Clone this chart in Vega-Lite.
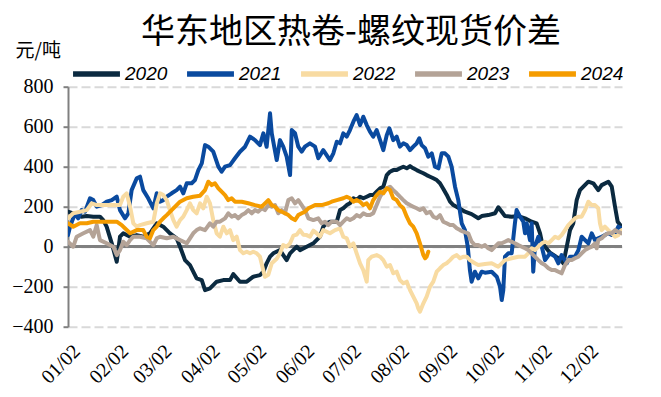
{
"$schema": "https://vega.github.io/schema/vega-lite/v6.json",
"width": 554, "height": 240,
"autosize": {"type": "none"},
"padding": {"left": 68, "top": 86.7, "right": 39, "bottom": 70.3},
"background": "white",
"title": {"text": "华东地区热卷-螺纹现货价差", "font": "Noto Sans CJK SC", "fontSize": 34, "fontWeight": "normal", "color": "#000000", "anchor": "middle", "frame": "group", "offset": 0, "dx": 6, "dy": 8},
"config": {"view": {"stroke": null},
  "axisY": {"values": [-400,-200,0,200,400,600,800], "labelOverlap": false, "labelFont": "Liberation Serif", "labelFontSize": 20, "labelColor": "#000000", "domainColor": "#808080", "domainWidth": 2, "tickColor": "#808080", "tickWidth": 2, "tickSize": 5, "labelPadding": 10, "grid": true, "gridColor": "#d9d9d9", "gridDash": [9, 4], "gridWidth": 2, "titleAngle": 0, "titleX": -53, "titleY": -30, "titleAlign": "left", "titleBaseline": "alphabetic", "titleFont": "Noto Sans CJK SC", "titleFontSize": 19, "titleFontWeight": "normal", "titleColor": "#000000"}},
"data": {"values": [
{"s":"2020","d":1,"v":175},{"s":"2020","d":4.4,"v":167},{"s":"2020","d":9.6,"v":150},{"s":"2020","d":13.1,"v":153},{"s":"2020","d":17.3,"v":150},{"s":"2020","d":21.6,"v":150},{"s":"2020","d":23.7,"v":133},{"s":"2020","d":25.9,"v":100},{"s":"2020","d":29.2,"v":17},{"s":"2020","d":32.4,"v":-75},{"s":"2020","d":34.5,"v":50},{"s":"2020","d":36.6,"v":67},{"s":"2020","d":41,"v":50},{"s":"2020","d":45.3,"v":58},{"s":"2020","d":49.5,"v":50},{"s":"2020","d":53.8,"v":67},{"s":"2020","d":58.2,"v":117},{"s":"2020","d":62.4,"v":100},{"s":"2020","d":66.7,"v":67},{"s":"2020","d":71,"v":42},{"s":"2020","d":73.2,"v":0},{"s":"2020","d":76.4,"v":-67},{"s":"2020","d":79.6,"v":-92},{"s":"2020","d":83.9,"v":-158},{"s":"2020","d":87.2,"v":-167},{"s":"2020","d":89.3,"v":-217},{"s":"2020","d":92.5,"v":-208},{"s":"2020","d":96.8,"v":-175},{"s":"2020","d":101.1,"v":-167},{"s":"2020","d":105.4,"v":-167},{"s":"2020","d":107.5,"v":-137},{"s":"2020","d":111.8,"v":-175},{"s":"2020","d":116.2,"v":-175},{"s":"2020","d":120.4,"v":-150},{"s":"2020","d":124.7,"v":-142},{"s":"2020","d":126.9,"v":-125},{"s":"2020","d":129,"v":-83},{"s":"2020","d":131.2,"v":-50},{"s":"2020","d":133.3,"v":-33},{"s":"2020","d":137.6,"v":-17},{"s":"2020","d":139.7,"v":-42},{"s":"2020","d":141.9,"v":-67},{"s":"2020","d":144.1,"v":-33},{"s":"2020","d":148.4,"v":0},{"s":"2020","d":150.5,"v":-17},{"s":"2020","d":154.8,"v":0},{"s":"2020","d":159.1,"v":17},{"s":"2020","d":163.4,"v":50},{"s":"2020","d":165.5,"v":100},{"s":"2020","d":167.7,"v":117},{"s":"2020","d":169.8,"v":125},{"s":"2020","d":174.2,"v":125},{"s":"2020","d":176.3,"v":183},{"s":"2020","d":178.4,"v":192},{"s":"2020","d":180.6,"v":208},{"s":"2020","d":182.7,"v":217},{"s":"2020","d":184.9,"v":242},{"s":"2020","d":187,"v":233},{"s":"2020","d":189.2,"v":250},{"s":"2020","d":191.3,"v":242},{"s":"2020","d":193.5,"v":250},{"s":"2020","d":195.6,"v":258},{"s":"2020","d":197.7,"v":258},{"s":"2020","d":199.9,"v":275},{"s":"2020","d":202.1,"v":292},{"s":"2020","d":204.2,"v":300},{"s":"2020","d":206.4,"v":358},{"s":"2020","d":208.5,"v":375},{"s":"2020","d":210.6,"v":383},{"s":"2020","d":212.8,"v":383},{"s":"2020","d":214.9,"v":392},{"s":"2020","d":217.1,"v":400},{"s":"2020","d":219.3,"v":392},{"s":"2020","d":221.4,"v":403},{"s":"2020","d":223.5,"v":392},{"s":"2020","d":225.7,"v":383},{"s":"2020","d":227.8,"v":375},{"s":"2020","d":230,"v":367},{"s":"2020","d":232.1,"v":358},{"s":"2020","d":234.3,"v":350},{"s":"2020","d":236.4,"v":342},{"s":"2020","d":238.6,"v":333},{"s":"2020","d":240.7,"v":317},{"s":"2020","d":242.8,"v":290},{"s":"2020","d":245,"v":260},{"s":"2020","d":247.2,"v":225},{"s":"2020","d":249.3,"v":208},{"s":"2020","d":253.6,"v":190},{"s":"2020","d":256.8,"v":175},{"s":"2020","d":261.1,"v":163},{"s":"2020","d":265.4,"v":142},{"s":"2020","d":267.6,"v":153},{"s":"2020","d":271.8,"v":158},{"s":"2020","d":276.2,"v":167},{"s":"2020","d":278.3,"v":197},{"s":"2020","d":280.5,"v":175},{"s":"2020","d":282.6,"v":153},{"s":"2020","d":286.9,"v":150},{"s":"2020","d":291.2,"v":153},{"s":"2020","d":295.5,"v":142},{"s":"2020","d":299.8,"v":125},{"s":"2020","d":303,"v":117},{"s":"2020","d":305.2,"v":67},{"s":"2020","d":306.3,"v":25},{"s":"2020","d":308.4,"v":0},{"s":"2020","d":311.6,"v":-30},{"s":"2020","d":315.5,"v":-50},{"s":"2020","d":318,"v":-60},{"s":"2020","d":320.2,"v":-83},{"s":"2020","d":322.4,"v":0},{"s":"2020","d":324.5,"v":83},{"s":"2020","d":326.6,"v":117},{"s":"2020","d":328.8,"v":233},{"s":"2020","d":330.9,"v":283},{"s":"2020","d":333.1,"v":300},{"s":"2020","d":336.3,"v":325},{"s":"2020","d":339.5,"v":317},{"s":"2020","d":342.7,"v":283},{"s":"2020","d":344.9,"v":308},{"s":"2020","d":349.2,"v":325},{"s":"2020","d":351.4,"v":300},{"s":"2020","d":353.5,"v":200},{"s":"2020","d":355.2,"v":125},{"s":"2020","d":357.8,"v":100},
{"s":"2021","d":1,"v":58},{"s":"2021","d":2.3,"v":100},{"s":"2021","d":5.5,"v":167},{"s":"2021","d":7.6,"v":142},{"s":"2021","d":9.8,"v":183},{"s":"2021","d":12,"v":175},{"s":"2021","d":15.2,"v":242},{"s":"2021","d":17.3,"v":233},{"s":"2021","d":19.5,"v":200},{"s":"2021","d":22.7,"v":208},{"s":"2021","d":25.9,"v":225},{"s":"2021","d":29.2,"v":233},{"s":"2021","d":32.4,"v":250},{"s":"2021","d":34.5,"v":183},{"s":"2021","d":37.7,"v":142},{"s":"2021","d":39.9,"v":167},{"s":"2021","d":42,"v":283},{"s":"2021","d":45.3,"v":342},{"s":"2021","d":47.4,"v":350},{"s":"2021","d":49.5,"v":283},{"s":"2021","d":52.7,"v":242},{"s":"2021","d":56,"v":192},{"s":"2021","d":58.2,"v":267},{"s":"2021","d":60.3,"v":225},{"s":"2021","d":62.4,"v":233},{"s":"2021","d":64.6,"v":250},{"s":"2021","d":67.8,"v":267},{"s":"2021","d":71,"v":283},{"s":"2021","d":73.2,"v":300},{"s":"2021","d":75.3,"v":267},{"s":"2021","d":77.5,"v":317},{"s":"2021","d":80.7,"v":317},{"s":"2021","d":82.8,"v":333},{"s":"2021","d":85,"v":383},{"s":"2021","d":87.2,"v":417},{"s":"2021","d":89.3,"v":508},{"s":"2021","d":91.4,"v":500},{"s":"2021","d":94.6,"v":475},{"s":"2021","d":97.9,"v":400},{"s":"2021","d":100,"v":375},{"s":"2021","d":102.2,"v":400},{"s":"2021","d":105.4,"v":408},{"s":"2021","d":108.6,"v":442},{"s":"2021","d":111.8,"v":475},{"s":"2021","d":115.1,"v":500},{"s":"2021","d":118.3,"v":550},{"s":"2021","d":121.5,"v":533},{"s":"2021","d":124.7,"v":508},{"s":"2021","d":126.9,"v":567},{"s":"2021","d":129,"v":500},{"s":"2021","d":131.2,"v":667},{"s":"2021","d":132.3,"v":567},{"s":"2021","d":135.5,"v":433},{"s":"2021","d":137.6,"v":533},{"s":"2021","d":139.7,"v":500},{"s":"2021","d":141.9,"v":450},{"s":"2021","d":144.1,"v":358},{"s":"2021","d":145.2,"v":583},{"s":"2021","d":147.3,"v":567},{"s":"2021","d":149.4,"v":500},{"s":"2021","d":151.6,"v":475},{"s":"2021","d":153.7,"v":500},{"s":"2021","d":156.9,"v":517},{"s":"2021","d":160.2,"v":500},{"s":"2021","d":162.3,"v":442},{"s":"2021","d":165.5,"v":483},{"s":"2021","d":169.8,"v":433},{"s":"2021","d":172,"v":467},{"s":"2021","d":174.2,"v":525},{"s":"2021","d":176.3,"v":517},{"s":"2021","d":178.4,"v":567},{"s":"2021","d":180.6,"v":550},{"s":"2021","d":182.7,"v":583},{"s":"2021","d":184.9,"v":625},{"s":"2021","d":187,"v":658},{"s":"2021","d":189.2,"v":608},{"s":"2021","d":191.3,"v":650},{"s":"2021","d":193.5,"v":608},{"s":"2021","d":195.6,"v":575},{"s":"2021","d":197.7,"v":550},{"s":"2021","d":199.9,"v":583},{"s":"2021","d":202.1,"v":533},{"s":"2021","d":204.2,"v":483},{"s":"2021","d":206.4,"v":558},{"s":"2021","d":208.1,"v":592},{"s":"2021","d":210.6,"v":533},{"s":"2021","d":212.8,"v":550},{"s":"2021","d":214.9,"v":500},{"s":"2021","d":217.1,"v":517},{"s":"2021","d":219.3,"v":508},{"s":"2021","d":221.4,"v":483},{"s":"2021","d":223.5,"v":500},{"s":"2021","d":225.7,"v":517},{"s":"2021","d":227.4,"v":542},{"s":"2021","d":228.9,"v":508},{"s":"2021","d":231.1,"v":492},{"s":"2021","d":233.2,"v":450},{"s":"2021","d":235.4,"v":467},{"s":"2021","d":237.5,"v":400},{"s":"2021","d":239.7,"v":392},{"s":"2021","d":241.8,"v":467},{"s":"2021","d":243.9,"v":467},{"s":"2021","d":246.1,"v":450},{"s":"2021","d":248.2,"v":400},{"s":"2021","d":250.4,"v":300},{"s":"2021","d":252.5,"v":233},{"s":"2021","d":254.7,"v":117},{"s":"2021","d":256.8,"v":83},{"s":"2021","d":258.6,"v":0},{"s":"2021","d":260,"v":-117},{"s":"2021","d":261.1,"v":-175},{"s":"2021","d":263.2,"v":-125},{"s":"2021","d":265.4,"v":-158},{"s":"2021","d":267.6,"v":-125},{"s":"2021","d":269.7,"v":-130},{"s":"2021","d":274,"v":-125},{"s":"2021","d":277.3,"v":-150},{"s":"2021","d":279.4,"v":-200},{"s":"2021","d":280.5,"v":-267},{"s":"2021","d":281.5,"v":-217},{"s":"2021","d":282.6,"v":-50},{"s":"2021","d":284.7,"v":-33},{"s":"2021","d":286.9,"v":-33},{"s":"2021","d":289,"v":117},{"s":"2021","d":290.1,"v":183},{"s":"2021","d":292.3,"v":150},{"s":"2021","d":294.4,"v":125},{"s":"2021","d":295.5,"v":67},{"s":"2021","d":296.6,"v":117},{"s":"2021","d":298.7,"v":33},{"s":"2021","d":299.8,"v":117},{"s":"2021","d":300.8,"v":-125},{"s":"2021","d":301.9,"v":0},{"s":"2021","d":304.1,"v":50},{"s":"2021","d":306.3,"v":0},{"s":"2021","d":308.4,"v":-67},{"s":"2021","d":311.6,"v":-33},{"s":"2021","d":314.9,"v":-50},{"s":"2021","d":317,"v":-83},{"s":"2021","d":319.1,"v":-42},{"s":"2021","d":322.4,"v":-83},{"s":"2021","d":324.5,"v":-50},{"s":"2021","d":327.7,"v":-50},{"s":"2021","d":329.9,"v":-17},{"s":"2021","d":332,"v":50},{"s":"2021","d":334.2,"v":33},{"s":"2021","d":336.3,"v":17},{"s":"2021","d":338.5,"v":67},{"s":"2021","d":340.6,"v":33},{"s":"2021","d":342.7,"v":42},{"s":"2021","d":344.9,"v":50},{"s":"2021","d":347,"v":58},{"s":"2021","d":349.2,"v":67},{"s":"2021","d":351.4,"v":58},{"s":"2021","d":353.5,"v":67},{"s":"2021","d":355.6,"v":100},{"s":"2021","d":357.8,"v":92},
{"s":"2022","d":1,"v":142},{"s":"2022","d":4.4,"v":167},{"s":"2022","d":8.7,"v":175},{"s":"2022","d":13.1,"v":183},{"s":"2022","d":16.3,"v":217},{"s":"2022","d":19.5,"v":208},{"s":"2022","d":23.7,"v":208},{"s":"2022","d":30.2,"v":208},{"s":"2022","d":34.5,"v":208},{"s":"2022","d":36.6,"v":250},{"s":"2022","d":38.8,"v":267},{"s":"2022","d":41,"v":200},{"s":"2022","d":43.1,"v":117},{"s":"2022","d":45.3,"v":100},{"s":"2022","d":47.4,"v":108},{"s":"2022","d":51.7,"v":117},{"s":"2022","d":56,"v":125},{"s":"2022","d":58.2,"v":217},{"s":"2022","d":60.3,"v":267},{"s":"2022","d":62.4,"v":258},{"s":"2022","d":64.6,"v":233},{"s":"2022","d":66.7,"v":183},{"s":"2022","d":68.9,"v":133},{"s":"2022","d":71,"v":100},{"s":"2022","d":73.2,"v":133},{"s":"2022","d":75.3,"v":150},{"s":"2022","d":77.5,"v":183},{"s":"2022","d":79.6,"v":217},{"s":"2022","d":81.7,"v":183},{"s":"2022","d":83.9,"v":167},{"s":"2022","d":86.1,"v":217},{"s":"2022","d":88.2,"v":192},{"s":"2022","d":90.4,"v":250},{"s":"2022","d":92.5,"v":217},{"s":"2022","d":94.6,"v":133},{"s":"2022","d":96.8,"v":67},{"s":"2022","d":98.9,"v":50},{"s":"2022","d":101.1,"v":100},{"s":"2022","d":103.3,"v":67},{"s":"2022","d":105.4,"v":83},{"s":"2022","d":107.5,"v":33},{"s":"2022","d":109.7,"v":50},{"s":"2022","d":111.8,"v":-17},{"s":"2022","d":114,"v":-33},{"s":"2022","d":116.2,"v":-25},{"s":"2022","d":118.3,"v":-33},{"s":"2022","d":120.4,"v":-25},{"s":"2022","d":122.6,"v":-33},{"s":"2022","d":124.7,"v":-50},{"s":"2022","d":126.9,"v":-120},{"s":"2022","d":127.9,"v":-150},{"s":"2022","d":130.1,"v":-140},{"s":"2022","d":132.3,"v":-83},{"s":"2022","d":135.5,"v":-60},{"s":"2022","d":137.6,"v":-33},{"s":"2022","d":139.7,"v":8},{"s":"2022","d":141.9,"v":0},{"s":"2022","d":144.1,"v":17},{"s":"2022","d":146.2,"v":55},{"s":"2022","d":148.4,"v":60},{"s":"2022","d":150.5,"v":83},{"s":"2022","d":152.6,"v":60},{"s":"2022","d":154.8,"v":58},{"s":"2022","d":156.9,"v":50},{"s":"2022","d":159.1,"v":80},{"s":"2022","d":161.3,"v":67},{"s":"2022","d":163.4,"v":50},{"s":"2022","d":165.5,"v":83},{"s":"2022","d":167.7,"v":75},{"s":"2022","d":169.8,"v":67},{"s":"2022","d":173.1,"v":83},{"s":"2022","d":176.3,"v":92},{"s":"2022","d":178.4,"v":50},{"s":"2022","d":180.6,"v":42},{"s":"2022","d":182.7,"v":0},{"s":"2022","d":184.9,"v":17},{"s":"2022","d":187,"v":-33},{"s":"2022","d":189.2,"v":-83},{"s":"2022","d":191.3,"v":-117},{"s":"2022","d":193.5,"v":-175},{"s":"2022","d":194.5,"v":-67},{"s":"2022","d":196.7,"v":-50},{"s":"2022","d":199.9,"v":-42},{"s":"2022","d":202.1,"v":-50},{"s":"2022","d":204.2,"v":-67},{"s":"2022","d":206.4,"v":-100},{"s":"2022","d":208.5,"v":-92},{"s":"2022","d":210.6,"v":-133},{"s":"2022","d":212.8,"v":-125},{"s":"2022","d":214.9,"v":-167},{"s":"2022","d":217.1,"v":-183},{"s":"2022","d":219.3,"v":-175},{"s":"2022","d":221.4,"v":-217},{"s":"2022","d":223.5,"v":-250},{"s":"2022","d":225.7,"v":-283},{"s":"2022","d":226.7,"v":-308},{"s":"2022","d":227.8,"v":-325},{"s":"2022","d":230,"v":-283},{"s":"2022","d":232.1,"v":-250},{"s":"2022","d":234.3,"v":-200},{"s":"2022","d":236.4,"v":-175},{"s":"2022","d":238.6,"v":-125},{"s":"2022","d":240.7,"v":-108},{"s":"2022","d":242.8,"v":-92},{"s":"2022","d":245,"v":-83},{"s":"2022","d":247.2,"v":-67},{"s":"2022","d":249.3,"v":-50},{"s":"2022","d":251.5,"v":-42},{"s":"2022","d":253.6,"v":-58},{"s":"2022","d":255.7,"v":-50},{"s":"2022","d":257.9,"v":-50},{"s":"2022","d":260,"v":-67},{"s":"2022","d":263.2,"v":-83},{"s":"2022","d":265.4,"v":-92},{"s":"2022","d":269.7,"v":-87},{"s":"2022","d":274,"v":-83},{"s":"2022","d":276.2,"v":-92},{"s":"2022","d":278.3,"v":-100},{"s":"2022","d":280.5,"v":-83},{"s":"2022","d":282.6,"v":-67},{"s":"2022","d":286.9,"v":-58},{"s":"2022","d":291.2,"v":-50},{"s":"2022","d":295.5,"v":-50},{"s":"2022","d":297.6,"v":-33},{"s":"2022","d":299.8,"v":-8},{"s":"2022","d":301.9,"v":-17},{"s":"2022","d":304.1,"v":0},{"s":"2022","d":306.3,"v":17},{"s":"2022","d":308.4,"v":25},{"s":"2022","d":310.6,"v":17},{"s":"2022","d":312.7,"v":33},{"s":"2022","d":314.9,"v":50},{"s":"2022","d":317,"v":42},{"s":"2022","d":319.1,"v":58},{"s":"2022","d":321.3,"v":83},{"s":"2022","d":323.4,"v":108},{"s":"2022","d":325.6,"v":125},{"s":"2022","d":327.7,"v":142},{"s":"2022","d":329.9,"v":150},{"s":"2022","d":332,"v":150},{"s":"2022","d":334.2,"v":183},{"s":"2022","d":336.3,"v":225},{"s":"2022","d":338.5,"v":208},{"s":"2022","d":340.6,"v":208},{"s":"2022","d":342.7,"v":192},{"s":"2022","d":343.8,"v":117},{"s":"2022","d":344.9,"v":83},{"s":"2022","d":347,"v":100},{"s":"2022","d":349.2,"v":83},{"s":"2022","d":351.4,"v":67},{"s":"2022","d":353.5,"v":50},{"s":"2022","d":355.6,"v":58},{"s":"2022","d":357.8,"v":83},
{"s":"2023","d":1,"v":25},{"s":"2023","d":4.4,"v":0},{"s":"2023","d":6.6,"v":50},{"s":"2023","d":10.9,"v":67},{"s":"2023","d":15.2,"v":83},{"s":"2023","d":17.3,"v":50},{"s":"2023","d":19.5,"v":108},{"s":"2023","d":21.6,"v":33},{"s":"2023","d":25.9,"v":17},{"s":"2023","d":30.2,"v":0},{"s":"2023","d":32.4,"v":-42},{"s":"2023","d":34.5,"v":-17},{"s":"2023","d":36.6,"v":25},{"s":"2023","d":38.8,"v":8},{"s":"2023","d":41,"v":33},{"s":"2023","d":43.1,"v":50},{"s":"2023","d":47.4,"v":50},{"s":"2023","d":51.7,"v":42},{"s":"2023","d":56,"v":8},{"s":"2023","d":58.2,"v":42},{"s":"2023","d":60.3,"v":50},{"s":"2023","d":64.6,"v":42},{"s":"2023","d":68.9,"v":50},{"s":"2023","d":73.2,"v":33},{"s":"2023","d":77.5,"v":17},{"s":"2023","d":79.6,"v":42},{"s":"2023","d":81.7,"v":67},{"s":"2023","d":83.9,"v":83},{"s":"2023","d":86.1,"v":92},{"s":"2023","d":89.3,"v":83},{"s":"2023","d":92.5,"v":117},{"s":"2023","d":94.6,"v":100},{"s":"2023","d":96.8,"v":125},{"s":"2023","d":98.9,"v":125},{"s":"2023","d":102.2,"v":142},{"s":"2023","d":104.3,"v":167},{"s":"2023","d":106.5,"v":150},{"s":"2023","d":108.6,"v":158},{"s":"2023","d":110.7,"v":142},{"s":"2023","d":112.9,"v":158},{"s":"2023","d":115.1,"v":167},{"s":"2023","d":117.2,"v":183},{"s":"2023","d":119.4,"v":167},{"s":"2023","d":121.5,"v":183},{"s":"2023","d":123.6,"v":175},{"s":"2023","d":125.8,"v":192},{"s":"2023","d":127.9,"v":183},{"s":"2023","d":130.1,"v":208},{"s":"2023","d":132.3,"v":200},{"s":"2023","d":134.4,"v":208},{"s":"2023","d":136.5,"v":167},{"s":"2023","d":138.7,"v":183},{"s":"2023","d":140.8,"v":167},{"s":"2023","d":143,"v":233},{"s":"2023","d":145.2,"v":242},{"s":"2023","d":147.3,"v":217},{"s":"2023","d":149.4,"v":233},{"s":"2023","d":151.6,"v":208},{"s":"2023","d":153.7,"v":183},{"s":"2023","d":155.9,"v":142},{"s":"2023","d":159.1,"v":133},{"s":"2023","d":162.3,"v":142},{"s":"2023","d":164.5,"v":117},{"s":"2023","d":166.6,"v":125},{"s":"2023","d":168.7,"v":108},{"s":"2023","d":170.9,"v":125},{"s":"2023","d":174.2,"v":125},{"s":"2023","d":176.3,"v":108},{"s":"2023","d":178.4,"v":125},{"s":"2023","d":180.6,"v":142},{"s":"2023","d":182.7,"v":133},{"s":"2023","d":184.9,"v":142},{"s":"2023","d":187,"v":158},{"s":"2023","d":189.2,"v":150},{"s":"2023","d":191.3,"v":167},{"s":"2023","d":193.5,"v":158},{"s":"2023","d":195.6,"v":158},{"s":"2023","d":197.7,"v":167},{"s":"2023","d":199.9,"v":208},{"s":"2023","d":202.1,"v":250},{"s":"2023","d":204.2,"v":275},{"s":"2023","d":206.4,"v":292},{"s":"2023","d":208.5,"v":300},{"s":"2023","d":210.6,"v":283},{"s":"2023","d":212.8,"v":267},{"s":"2023","d":214.9,"v":250},{"s":"2023","d":217.1,"v":233},{"s":"2023","d":219.3,"v":217},{"s":"2023","d":221.4,"v":208},{"s":"2023","d":223.5,"v":200},{"s":"2023","d":225.7,"v":192},{"s":"2023","d":227.8,"v":183},{"s":"2023","d":230,"v":192},{"s":"2023","d":232.1,"v":167},{"s":"2023","d":234.3,"v":175},{"s":"2023","d":236.4,"v":150},{"s":"2023","d":238.6,"v":142},{"s":"2023","d":240.7,"v":158},{"s":"2023","d":242.8,"v":125},{"s":"2023","d":245,"v":117},{"s":"2023","d":247.2,"v":108},{"s":"2023","d":249.3,"v":108},{"s":"2023","d":251.5,"v":92},{"s":"2023","d":253.6,"v":83},{"s":"2023","d":255.7,"v":75},{"s":"2023","d":258.9,"v":67},{"s":"2023","d":261.1,"v":25},{"s":"2023","d":263.2,"v":8},{"s":"2023","d":265.4,"v":8},{"s":"2023","d":267.6,"v":0},{"s":"2023","d":269.7,"v":8},{"s":"2023","d":271.8,"v":-8},{"s":"2023","d":274,"v":-17},{"s":"2023","d":276.2,"v":0},{"s":"2023","d":278.3,"v":17},{"s":"2023","d":280.5,"v":17},{"s":"2023","d":282.6,"v":25},{"s":"2023","d":284.7,"v":33},{"s":"2023","d":286.9,"v":25},{"s":"2023","d":289,"v":17},{"s":"2023","d":291.2,"v":8},{"s":"2023","d":293.4,"v":0},{"s":"2023","d":295.5,"v":-8},{"s":"2023","d":297.6,"v":-17},{"s":"2023","d":299.8,"v":-33},{"s":"2023","d":301.9,"v":-50},{"s":"2023","d":304.1,"v":-67},{"s":"2023","d":306.3,"v":-83},{"s":"2023","d":308.4,"v":-92},{"s":"2023","d":310.6,"v":-108},{"s":"2023","d":312.7,"v":-117},{"s":"2023","d":314.9,"v":-117},{"s":"2023","d":317,"v":-125},{"s":"2023","d":319.1,"v":-133},{"s":"2023","d":321.3,"v":-92},{"s":"2023","d":323.4,"v":-67},{"s":"2023","d":325.6,"v":-67},{"s":"2023","d":327.7,"v":-58},{"s":"2023","d":329.9,"v":-50},{"s":"2023","d":332,"v":-33},{"s":"2023","d":334.2,"v":-17},{"s":"2023","d":336.3,"v":-8},{"s":"2023","d":338.5,"v":0},{"s":"2023","d":340.6,"v":17},{"s":"2023","d":341.7,"v":-8},{"s":"2023","d":342.7,"v":33},{"s":"2023","d":344.9,"v":42},{"s":"2023","d":347,"v":58},{"s":"2023","d":349.2,"v":67},{"s":"2023","d":351.4,"v":67},{"s":"2023","d":353.5,"v":83},{"s":"2023","d":355.6,"v":75},{"s":"2023","d":357.8,"v":67},
{"s":"2024","d":1,"v":117},{"s":"2024","d":4.4,"v":100},{"s":"2024","d":8.7,"v":117},{"s":"2024","d":13.1,"v":117},{"s":"2024","d":17.3,"v":125},{"s":"2024","d":23.7,"v":125},{"s":"2024","d":32.4,"v":125},{"s":"2024","d":35.6,"v":108},{"s":"2024","d":41,"v":67},{"s":"2024","d":45.3,"v":83},{"s":"2024","d":49.5,"v":83},{"s":"2024","d":51.7,"v":50},{"s":"2024","d":53.8,"v":42},{"s":"2024","d":56,"v":83},{"s":"2024","d":58.2,"v":100},{"s":"2024","d":60.3,"v":125},{"s":"2024","d":62.4,"v":142},{"s":"2024","d":64.6,"v":158},{"s":"2024","d":68.9,"v":192},{"s":"2024","d":73.2,"v":225},{"s":"2024","d":77.5,"v":242},{"s":"2024","d":81.7,"v":250},{"s":"2024","d":86.1,"v":255},{"s":"2024","d":89.3,"v":283},{"s":"2024","d":91.4,"v":325},{"s":"2024","d":93.6,"v":308},{"s":"2024","d":95.7,"v":317},{"s":"2024","d":97.9,"v":292},{"s":"2024","d":100,"v":275},{"s":"2024","d":102.2,"v":258},{"s":"2024","d":104.3,"v":233},{"s":"2024","d":106.5,"v":242},{"s":"2024","d":108.6,"v":225},{"s":"2024","d":112.9,"v":225},{"s":"2024","d":117.2,"v":217},{"s":"2024","d":121.5,"v":208},{"s":"2024","d":125.8,"v":200},{"s":"2024","d":130.1,"v":233},{"s":"2024","d":132.3,"v":208},{"s":"2024","d":134.4,"v":200},{"s":"2024","d":136.5,"v":183},{"s":"2024","d":138.7,"v":175},{"s":"2024","d":140.8,"v":167},{"s":"2024","d":143,"v":158},{"s":"2024","d":145.2,"v":142},{"s":"2024","d":147.3,"v":133},{"s":"2024","d":149.4,"v":158},{"s":"2024","d":151.6,"v":167},{"s":"2024","d":153.7,"v":175},{"s":"2024","d":155.9,"v":192},{"s":"2024","d":158,"v":200},{"s":"2024","d":160.2,"v":208},{"s":"2024","d":164.5,"v":208},{"s":"2024","d":168.7,"v":217},{"s":"2024","d":170.9,"v":225},{"s":"2024","d":174.2,"v":233},{"s":"2024","d":178.4,"v":242},{"s":"2024","d":180.6,"v":250},{"s":"2024","d":182.7,"v":242},{"s":"2024","d":184.9,"v":225},{"s":"2024","d":187,"v":233},{"s":"2024","d":189.2,"v":225},{"s":"2024","d":191.3,"v":208},{"s":"2024","d":193.5,"v":217},{"s":"2024","d":195.6,"v":192},{"s":"2024","d":197.7,"v":233},{"s":"2024","d":199.9,"v":258},{"s":"2024","d":202.1,"v":275},{"s":"2024","d":204.2,"v":267},{"s":"2024","d":206.4,"v":292},{"s":"2024","d":208.5,"v":283},{"s":"2024","d":210.6,"v":242},{"s":"2024","d":212.8,"v":233},{"s":"2024","d":214.9,"v":208},{"s":"2024","d":217.1,"v":192},{"s":"2024","d":219.3,"v":150},{"s":"2024","d":221.4,"v":117},{"s":"2024","d":223.5,"v":100},{"s":"2024","d":225.7,"v":67},{"s":"2024","d":227.8,"v":17},{"s":"2024","d":230,"v":-42},{"s":"2024","d":231.1,"v":-58},{"s":"2024","d":232.1,"v":-50},{"s":"2024","d":233.2,"v":-25}
]},
"layer": [
{"mark": {"type": "rule", "color": "#808080", "strokeWidth": 2}, "encoding": {"y": {"datum": 0, "type": "quantitative", "scale": {"domain": [-400, 800], "nice": false, "zero": false}, "axis": {"title": "元/吨"}}}},
{"mark": {"type": "line", "strokeWidth": 4, "strokeCap": "round", "strokeJoin": "round", "clip": true},
 "encoding": {
  "x": {"field": "d", "type": "quantitative", "scale": {"domain": [1, 358], "nice": false, "zero": false},
        "axis": {"values": [2,33,61,92,122,153,183,214,245,275,306,336], "labelExpr": "timeFormat(datetime(2001, 0, datum.value), '%m/%d')", "labelAngle": -45, "labelAlign": "right", "labelBaseline": "top", "labelFont": "Liberation Serif", "labelFontSize": 20, "labelColor": "#000000", "ticks": false, "domain": false, "grid": false, "labelPadding": 14, "labelDx": -3, "title": null, "labelOverlap": false, "labelBound": false, "labelFlush": false}},
  "y": {"field": "v", "type": "quantitative", "scale": {"domain": [-400, 800], "nice": false, "zero": false}, "axis": {"title": "元/吨"}},
  "color": {"field": "s", "type": "nominal", "scale": {"domain": ["2020","2021","2022","2023","2024"], "range": ["#0b2a40","#0a4a9f","#f8dba2","#b4a397","#f59c00"]},
        "legend": {"orient": "none", "legendX": 2, "legendY": -39.5, "direction": "horizontal", "columns": 5, "title": null, "symbolType": "stroke", "symbolSize": 2200, "symbolStrokeWidth": 5.5, "labelFont": "Liberation Sans", "labelFontStyle": "italic", "labelFontSize": 19, "labelColor": "#000000", "labelOffset": 2, "columnPadding": 8, "padding": 0}}
 }}
]
}
